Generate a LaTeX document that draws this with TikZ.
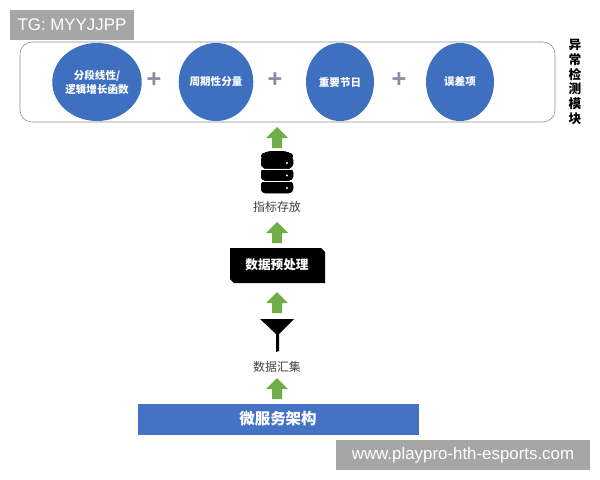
\documentclass[tikz,border=0pt]{standalone}
\usepackage{fontspec}
\setmainfont{Liberation Sans}
\newfontfamily\cjk{Noto Sans CJK SC}
\definecolor{blueball}{HTML}{3F6FBF}
\definecolor{barblue}{HTML}{4472C4}
\definecolor{upgreen}{HTML}{70AD47}
\definecolor{markgray}{HTML}{A6A6A6}
\definecolor{plusgray}{HTML}{8C8CA8}
\newlength{\pxlen}
\setlength{\pxlen}{0.025cm}
\usetikzlibrary{shapes.geometric}

\tikzset{
  ball/.style={ellipse,fill=blueball,minimum width=68\pxlen,minimum height=78\pxlen,inner sep=0pt,
    text=white,font=\cjk\bfseries\fontsize{7.5}{10}\selectfont,align=center},
  plus/.style={text=plusgray,font=\bfseries\fontsize{18}{18}\selectfont},
  wmark/.style={fill=markgray,text=white,font=\fontsize{12}{13}\selectfont,inner sep=0pt},
  caption/.style={font=\cjk\fontsize{8.5}{10}\selectfont,text=black!75},
}
\newcommand{\uparr}[2]{% green block arrow, centre x y
  \fill[upgreen] ({#1-5},{#2+10}) -- ({#1-5},{#2}) -- ({#1-11},{#2}) -- ({#1},{#2-11})
    -- ({#1+11},{#2}) -- ({#1+5},{#2}) -- ({#1+5},{#2+10}) -- cycle;}

\begin{document}
\begin{tikzpicture}[x=0.025cm,y=-0.025cm]
\useasboundingbox (0,0) rectangle (600,480);
% watermark top
\node[wmark,minimum width=124\pxlen,minimum height=30\pxlen] (tg) at (72,25) {TG: MYYJJPP};
% detection module
\draw[black!45,rounded corners=12\pxlen] (20,42) rectangle (555,122);
\node[ball] (trend) at (97,82) {分段线性/\\逻辑增长函数};
\node[ball] (season) at (216,82) {周期性分量};
\node[ball] (holiday) at (340,82) {重要节日};
\node[ball] (error) at (460,82) {误差项};
\foreach \x in {154,275,399}
  \node[plus] at (\x,80) {+};
\node[font=\cjk\bfseries\fontsize{9}{10.5}\selectfont,align=center] (module) at (575,82)
  {异\\常\\检\\测\\模\\块};
% arrows
\foreach \y in {138,233,303,389}
  \uparr{277}{\y}
% database
\foreach \k in {0,1,2}{
  \fill[black,rounded corners=4\pxlen] (261,{156+\k*12.5}) rectangle (293,{168+\k*12.5});
  \fill[white] (287,{163+\k*12.5}) circle (1.2);
}
\fill[black] (277,156) ellipse (16 and 5);
\draw[white,line width=0.7pt] (261,169) -- (293,169) (261,181.5) -- (293,181.5);
\node[caption] (store) at (277,207) {指标存放};
% preprocessing
\fill[black] (230,248) -- (321,248) -- (325,252) -- (325,283) -- (234,283) -- (230,279) -- cycle;
\node[text=white,font=\cjk\bfseries\fontsize{9}{10}\selectfont] (prep) at (277,265) {数据预处理};
% funnel
\fill[black] (260,319) -- (294,319) -- (279,334) -- (279,351) -- (276,352) -- (276,334) -- cycle;
\node[caption] (collect) at (277,367) {数据汇集};
% microservices
\fill[barblue] (138,404) rectangle (419,435);
\node[text=white,font=\cjk\bfseries\fontsize{11}{12}\selectfont] (micro) at (278,419) {微服务架构};
% watermark bottom
\node[wmark,minimum width=254\pxlen,minimum height=30\pxlen] (site) at (463,455) {www.playpro-hth-esports.com};
\end{tikzpicture}
\end{document}
